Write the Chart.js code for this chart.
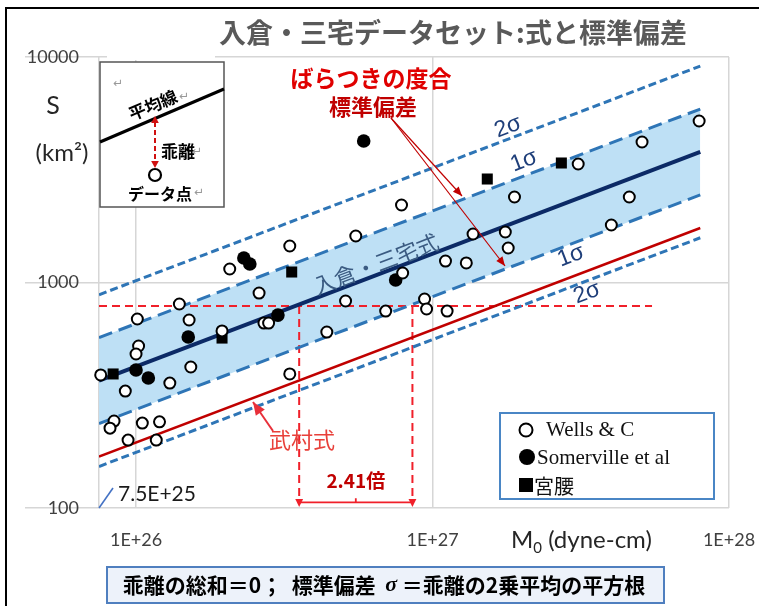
<!DOCTYPE html>
<html lang="ja">
<head>
<meta charset="utf-8">
<title>入倉・三宅データセット:式と標準偏差</title>
<script src="https://cdn.jsdelivr.net/npm/chart.js@4.4.1/dist/chart.umd.min.js"></script>
<style>
html,body{margin:0;padding:0;background:#fff;}
#wrap{position:relative;width:759px;height:606px;}
</style>
</head>
<body>
<div id="wrap"><canvas id="c" width="759" height="606"></canvas></div>
<script>
// Seismic moment M0 (dyne-cm) and rupture area S (km^2) per data source
const wellsM0 = [7.6e25, 9.2e25, 1.30e26, 1.53e26, 1.95e26, 1.01e26, 1.02e26, 1.00e26, 1.40e26, 1.51e26,
                 2.07e26, 2.60e26, 2.70e26, 2.80e26, 3.30e26, 3.30e26, 4.40e26, 5.09e26, 5.51e26, 6.95e26,
                 7.93e26, 7.86e26, 9.40e26, 9.55e26, 1.12e27, 1.106e27, 1.30e27, 1.37e27, 1.76e27, 1.80e27,
                 1.89e27, 3.10e27, 4.01e27, 4.61e27, 5.09e27, 7.93e27, 8.43e25, 8.17e25, 1.05e26, 1.20e26,
                 9.4e25, 1.17e26];
const wellsS  = [389, 330, 358, 422, 610, 689, 523, 482, 803, 682,
                 1148, 898, 661, 661, 1452, 393, 603, 828, 1608, 747,
                 1102, 2207, 845, 763, 747, 1245, 1221, 1641, 1675, 1422,
                 2394, 3354, 1799, 2394, 4198, 5203, 243, 226, 238, 241,
                 200, 200];
const somervilleM0 = [1.0e26, 1.10e26, 1.50e26, 2.31e26, 2.42e26, 3.01e26, 5.86e26, 7.51e26];
const somervilleS  = [409, 377, 573, 1284, 1208, 717, 4242, 1026];
const miyakoshiM0 = [8.37e25, 1.95e26, 3.35e26, 1.53e27, 2.72e27];
const miyakoshiS  = [393, 567, 1113, 2877, 3388];

// Scaling laws, evaluated at both ends of their range (M0 >= 7.5E+25)
const lineM0       = [7.5e25, 8.0e27];
const irikuraS     = [367.2, 3792];   // S = 4.24e-11 * M0^(1/2)
const plus1SigmaS  = [569.2, 5878];   // x 1.55
const minus1SigmaS = [236.9, 2447];   // / 1.55
const plus2SigmaS  = [882.2, 9111];   // x 1.55^2
const minus2SigmaS = [152.8, 1579];   // / 1.55^2
const takemuraS    = [168.9, 1744];   // S = 1.95e-11 * M0^(1/2)

// Horizontal width of 1σ along M0 at a fixed area
const guideS = 787;
const guideLeftM0 = 3.55e26;
const guideRatio = 2.41;
const guideM0 = [guideLeftM0, guideLeftM0 * guideRatio];
const guideEndM0 = 5.5e27;
const guideBottomS = 106;

const xTickValues = [1e26, 1e27, 1e28];
const xTickLabels = ['1E+26', '1E+27', '1E+28'];
const yTickValues = [100, 1000, 10000];
const yTickLabels = ['100', '1000', '10000'];

const pts = (xs, ys) => xs.map((x, i) => ({ x, y: ys[i] }));

const JP = '"Noto Sans CJK JP"';
const BLUE = '#2e75b6';
const NAVY = '#0c2a66';
const RED = '#c00000';
const GUIDE_RED = '#f0202a';

function drawText(ctx, str, x, y, font, color, align, baseline, rot) {
  ctx.save();
  ctx.font = font;
  ctx.fillStyle = color;
  ctx.textAlign = align || 'center';
  ctx.textBaseline = baseline || 'middle';
  ctx.translate(x, y);
  if (rot) ctx.rotate(rot);
  ctx.fillText(str, 0, 0);
  ctx.restore();
}

function arrowHead(ctx, x1, y1, x2, y2, size, color, spread) {
  const a = Math.atan2(y2 - y1, x2 - x1);
  const s = spread || 0.4;
  ctx.save();
  ctx.fillStyle = color;
  ctx.beginPath();
  ctx.moveTo(x2, y2);
  ctx.lineTo(x2 - size * Math.cos(a - s), y2 - size * Math.sin(a - s));
  ctx.lineTo(x2 - size * Math.cos(a + s), y2 - size * Math.sin(a + s));
  ctx.closePath();
  ctx.fill();
  ctx.restore();
}

function arrow(ctx, x1, y1, x2, y2, color, width, head) {
  ctx.save();
  ctx.strokeStyle = color;
  ctx.lineWidth = width;
  ctx.beginPath();
  ctx.moveTo(x1, y1);
  ctx.lineTo(x2, y2);
  ctx.stroke();
  ctx.restore();
  arrowHead(ctx, x1, y1, x2, y2, head, color);
}

const decorations = {
  id: 'decorations',
  afterDraw(chart) {
    const { ctx } = chart;
    const xs = chart.scales.x, ys = chart.scales.y;

    // outer frame (top and left)
    ctx.save();
    ctx.strokeStyle = '#000';
    ctx.lineWidth = 2;
    ctx.beginPath();
    ctx.moveTo(6, 606); ctx.lineTo(6, 8); ctx.lineTo(759, 8);
    ctx.stroke();
    ctx.restore();

    // title
    ctx.fillStyle = '#fff';
    ctx.fillRect(107, 54, 108, 6);
    drawText(ctx, '入倉・三宅データセット:式と標準偏差', 453, 33, 'bold 27px ' + JP, '#595959');

    // axis titles
    drawText(ctx, 'S', 53, 106, '25px Lato', '#262626');
    drawText(ctx, '(km²)', 62, 153, '24px Lato', '#262626');
    ctx.save();
    ctx.fillStyle = '#262626';
    ctx.textBaseline = 'alphabetic';
    ctx.textAlign = 'left';
    let tx = 511;
    ctx.font = '24px Lato';
    ctx.fillText('M', tx, 548); tx += ctx.measureText('M').width;
    ctx.font = '15px Lato';
    ctx.fillText('0', tx, 553); tx += ctx.measureText('0').width;
    ctx.font = '24px Lato';
    ctx.fillText(' (dyne-cm)', tx, 548);
    ctx.restore();

    // line labels, rotated with the scaling-law slope
    const p0x = xs.getPixelForValue(lineM0[0]), p1x = xs.getPixelForValue(lineM0[1]);
    const p0y = ys.getPixelForValue(irikuraS[0]), p1y = ys.getPixelForValue(irikuraS[1]);
    const ang = Math.atan2(p1y - p0y, p1x - p0x);
    drawText(ctx, '入倉・三宅式', 376, 264, '22px ' + JP, '#3b5b82', 'center', 'middle', ang);
    const sigFont = '23px "Liberation Sans"';
    drawText(ctx, '2σ', 508, 127, sigFont, '#1f3f7a', 'center', 'middle', ang);
    drawText(ctx, '1σ', 524, 161, sigFont, '#1f3f7a', 'center', 'middle', ang);
    drawText(ctx, '1σ', 571, 256, sigFont, '#1f3f7a', 'center', 'middle', ang);
    drawText(ctx, '2σ', 587, 293, sigFont, '#1f3f7a', 'center', 'middle', ang);

    // scatter explanation
    drawText(ctx, 'ばらつきの度合', 371, 78, 'bold 23px ' + JP, '#e00000');
    drawText(ctx, '標準偏差', 373, 107, 'bold 22px ' + JP, RED);
    arrow(ctx, 391, 118, 462, 196, RED, 1.2, 10);
    arrow(ctx, 391, 118, 505, 266, RED, 1.2, 10);

    // Takemura label
    drawText(ctx, '武村式', 302, 440, '22px ' + JP, '#e8403a');
    arrow(ctx, 273, 431, 253, 402, '#e8303a', 2, 14);

    // 1σ width along M0
    const gy = ys.getPixelForValue(guideBottomS);
    const tipY = ys.getPixelForValue(100) - 1;
    const gx0 = xs.getPixelForValue(guideM0[0]), gx1 = xs.getPixelForValue(guideM0[1]);
    ctx.save();
    ctx.strokeStyle = GUIDE_RED;
    ctx.lineWidth = 1.8;
    ctx.beginPath();
    ctx.moveTo(gx0, gy); ctx.lineTo(gx1, gy);
    ctx.moveTo((gx0 + gx1) / 2, gy - 4); ctx.lineTo((gx0 + gx1) / 2, gy);
    ctx.stroke();
    ctx.restore();
    arrowHead(ctx, gx0, tipY - 10, gx0, tipY, 9, GUIDE_RED, 0.45);
    arrowHead(ctx, gx1, tipY - 10, gx1, tipY, 9, GUIDE_RED, 0.45);
    drawText(ctx, guideRatio.toFixed(2) + '倍', (gx0 + gx1) / 2, 481, 'bold 19px ' + JP, RED);

    // range start marker
    ctx.save();
    ctx.strokeStyle = '#4472c4';
    ctx.lineWidth = 1.6;
    ctx.beginPath();
    ctx.moveTo(xs.getPixelForValue(lineM0[0]), ys.getPixelForValue(100));
    ctx.lineTo(xs.getPixelForValue(lineM0[0]) + 14, ys.getPixelForValue(100) - 20);
    ctx.stroke();
    ctx.restore();
    drawText(ctx, '7.5E+25', 118, 494, '21px Lato', '#1a1a1a', 'left');

    // inset: deviation sketch
    ctx.save();
    ctx.fillStyle = '#fff';
    ctx.fillRect(100, 62, 124, 145);
    ctx.strokeStyle = '#555';
    ctx.lineWidth = 1.5;
    ctx.strokeRect(100, 62, 124, 145);
    ctx.strokeStyle = '#000';
    ctx.lineWidth = 3;
    ctx.beginPath();
    ctx.moveTo(100, 142); ctx.lineTo(224, 89);
    ctx.stroke();
    ctx.strokeStyle = '#d01010';
    ctx.lineWidth = 2;
    ctx.setLineDash([5, 3]);
    ctx.beginPath();
    ctx.moveTo(155, 122); ctx.lineTo(155, 160);
    ctx.stroke();
    ctx.setLineDash([]);
    ctx.restore();
    arrowHead(ctx, 155, 130, 155, 116, 8, '#d01010', 0.5);
    arrowHead(ctx, 155, 155, 155, 168, 8, '#d01010', 0.5);
    ctx.save();
    ctx.strokeStyle = '#000';
    ctx.lineWidth = 2.2;
    ctx.beginPath();
    ctx.arc(155, 175, 6, 0, Math.PI * 2);
    ctx.stroke();
    ctx.restore();
    drawText(ctx, '平均線', 153, 105, 'bold 17px ' + JP, '#000', 'center', 'middle', -0.4);
    drawText(ctx, '乖離', 178, 152, 'bold 17px ' + JP, '#000');
    drawText(ctx, 'データ点', 160, 194, 'bold 16px ' + JP, '#000');
    const rf = '12px "DejaVu Sans"';
    drawText(ctx, '↵', 118, 84, rf, '#999');
    drawText(ctx, '↵', 184, 97, rf, '#999');
    drawText(ctx, '↵', 197, 152, rf, '#999');
    drawText(ctx, '↵', 199, 193, rf, '#999');

    // legend
    ctx.save();
    ctx.fillStyle = '#fff';
    ctx.fillRect(500, 413, 214, 86);
    ctx.strokeStyle = '#4a86c5';
    ctx.lineWidth = 2;
    ctx.strokeRect(500, 413, 214, 86);
    ctx.strokeStyle = '#000';
    ctx.lineWidth = 2;
    ctx.beginPath(); ctx.arc(526, 430, 6.5, 0, Math.PI * 2); ctx.stroke();
    ctx.fillStyle = '#000';
    ctx.beginPath(); ctx.arc(527, 457, 8, 0, Math.PI * 2); ctx.fill();
    ctx.fillRect(519, 478, 14, 14);
    ctx.restore();
    const lf = '21px "Liberation Serif"';
    drawText(ctx, 'Wells & C', 546, 430, lf, '#111', 'left');
    drawText(ctx, 'Somerville et al', 537, 458, lf, '#111', 'left');
    drawText(ctx, '宮腰', 534, 486, '20px ' + JP, '#111', 'left');

    // note box
    ctx.save();
    ctx.fillStyle = '#edf2fa';
    ctx.fillRect(107, 567, 557, 36);
    ctx.strokeStyle = '#4f7fbf';
    ctx.lineWidth = 2;
    ctx.strokeRect(107, 567, 557, 36);
    const segs = [
      ['乖離の総和＝0；  標準偏差  ', 'bold 21px ' + JP],
      ['σ', 'italic bold 22px "Liberation Serif"'],
      [' ＝乖離の2乗平均の平方根', 'bold 21px ' + JP]
    ];
    let w = 0;
    segs.forEach(s => { ctx.font = s[1]; w += ctx.measureText(s[0]).width; });
    let sx = 384 - w / 2;
    ctx.fillStyle = '#000';
    ctx.textBaseline = 'middle';
    ctx.textAlign = 'left';
    segs.forEach(s => { ctx.font = s[1]; ctx.fillText(s[0], sx, 585); sx += ctx.measureText(s[0]).width; });
    ctx.restore();
  }
};

const lineDs = (label, ys, color, width, dash, extra) => Object.assign({
  label, data: pts(lineM0, ys), showLine: true, borderColor: color, borderWidth: width,
  borderDash: dash || [], pointRadius: 0, fill: false, tension: 0
}, extra || {});

new Chart(document.getElementById('c'), {
  type: 'line',
  data: {
    datasets: [
      { label: 'Wells & C', data: pts(wellsM0, wellsS), showLine: false, pointStyle: 'circle',
        pointRadius: 5.5, pointBackgroundColor: '#fff', pointBorderColor: '#000', pointBorderWidth: 2, clip: false },
      { label: 'Somerville et al', data: pts(somervilleM0, somervilleS), showLine: false, pointStyle: 'circle',
        pointRadius: 6.8, pointBackgroundColor: '#000', pointBorderColor: '#000', pointBorderWidth: 0, clip: false },
      { label: '宮腰', data: pts(miyakoshiM0, miyakoshiS), showLine: false, pointStyle: 'rect',
        pointRadius: 7.8, pointBackgroundColor: '#000', pointBorderColor: '#000', pointBorderWidth: 0, clip: false },
      lineDs('入倉・三宅式', irikuraS, NAVY, 4),
      lineDs('武村式', takemuraS, RED, 2.5),
      lineDs('+1σ', plus1SigmaS, BLUE, 3, [14, 7], { fill: '+1', backgroundColor: '#bee0f5' }),
      lineDs('-1σ', minus1SigmaS, BLUE, 3, [14, 7]),
      lineDs('+2σ', plus2SigmaS, BLUE, 3, [8, 4]),
      lineDs('-2σ', minus2SigmaS, BLUE, 3, [8, 4]),
      { label: 'guide-h', data: [{ x: lineM0[0], y: guideS }, { x: guideEndM0, y: guideS }], showLine: true,
        borderColor: GUIDE_RED, borderWidth: 2, borderDash: [8, 5], pointRadius: 0, fill: false },
      { label: 'guide-v1', data: [{ x: guideM0[0], y: guideS }, { x: guideM0[0], y: guideBottomS }], showLine: true,
        borderColor: GUIDE_RED, borderWidth: 2, borderDash: [8, 5], pointRadius: 0, fill: false },
      { label: 'guide-v2', data: [{ x: guideM0[1], y: guideS }, { x: guideM0[1], y: guideBottomS }], showLine: true,
        borderColor: GUIDE_RED, borderWidth: 2, borderDash: [8, 5], pointRadius: 0, fill: false }
    ]
  },
  options: {
    responsive: false,
    animation: false,
    events: [],
    layout: { padding: { left: 0, top: 57, right: 30, bottom: 0 } },
    plugins: {
      legend: { display: false },
      tooltip: { enabled: false },
      filler: { drawTime: 'beforeDatasetsDraw' }
    },
    scales: {
      x: {
        type: 'logarithmic',
        min: 7.5e25,
        max: 1e28,
        afterFit: s => { s.height = 98; s.paddingLeft = 0; s.paddingRight = 0; },
        afterBuildTicks: s => { s.ticks = [7.5e25].concat(xTickValues).map(v => ({ value: v })); },
        ticks: {
          autoSkip: false, maxRotation: 0, padding: 21,
          color: '#404040', font: { family: 'Lato', size: 18 },
          callback: v => { const i = xTickValues.indexOf(v); return i < 0 ? '' : xTickLabels[i]; }
        },
        grid: { color: '#d6d6d6', lineWidth: 1.5, drawTicks: false },
        border: { display: false }
      },
      y: {
        type: 'logarithmic',
        min: 100,
        max: 10000,
        afterFit: s => { s.width = 99; s.paddingTop = 0; s.paddingBottom = 0; },
        afterBuildTicks: s => { s.ticks = yTickValues.map(v => ({ value: v })); },
        ticks: {
          padding: -54,
          color: '#404040', font: { family: 'Lato', size: 18 },
          callback: v => { const i = yTickValues.indexOf(v); return i < 0 ? '' : yTickLabels[i]; }
        },
        grid: { color: '#d6d6d6', lineWidth: 1.5, drawTicks: true, tickLength: 74 },
        border: { display: false }
      }
    }
  },
  plugins: [decorations]
});
</script>
</body>
</html>
